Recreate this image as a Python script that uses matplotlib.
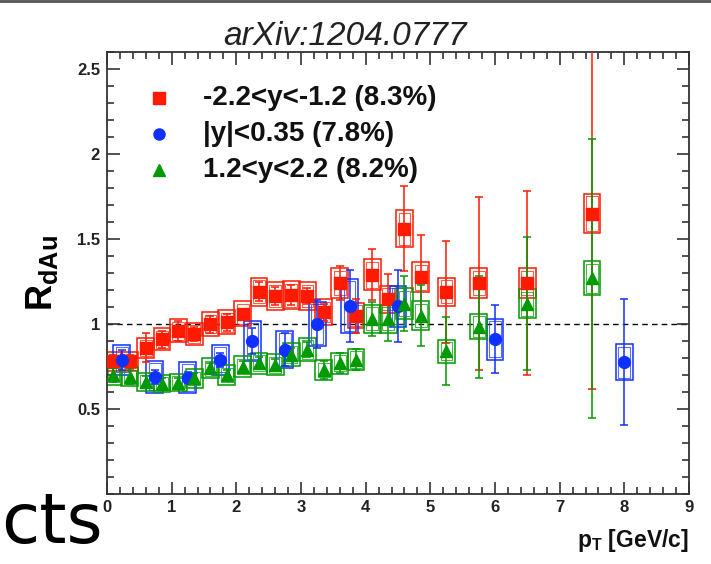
import matplotlib
matplotlib.use("Agg")
import matplotlib.pyplot as plt
from matplotlib.patches import Rectangle
from matplotlib.ticker import MultipleLocator
from matplotlib.lines import Line2D

plt.rcParams['font.family'] = ['Liberation Sans', 'DejaVu Sans']
plt.rcParams['mathtext.fontset'] = 'custom'
plt.rcParams['mathtext.rm'] = 'Liberation Sans:bold'
plt.rcParams['mathtext.bf'] = 'Liberation Sans:bold'
plt.rcParams['mathtext.it'] = 'Liberation Sans:bold'

# ---------------- data ----------------
title_text = "arXiv:1204.0777"
labels = ["-2.2<y<-1.2 (8.3%)", "|y|<0.35 (7.8%)", "1.2<y<2.2 (8.2%)"]

pt_bwd = [0.1, 0.35, 0.6, 0.85, 1.1, 1.35, 1.6, 1.85, 2.1, 2.35, 2.6, 2.85,
          3.1, 3.35, 3.6, 3.85, 4.1, 4.35, 4.6, 4.85, 5.25, 5.75, 6.5, 7.5]
r_bwd = [0.78, 0.78, 0.86, 0.91, 0.96, 0.94, 1.00, 1.01, 1.06, 1.19, 1.165, 1.17,
         1.165, 1.07, 1.24, 1.05, 1.29, 1.145, 1.56, 1.275, 1.19, 1.24, 1.24, 1.65]
stat_bwd = [0.04, 0.04, 0.085, 0.05, 0.06, 0.04, 0.05, 0.05, 0.03, 0.055, 0.055, 0.057,
            0.045, 0.05, 0.10, 0.10, 0.15, 0.15, 0.25, 0.25, 0.30, 0.51, 0.54, 1.03]
sys_bwd = [0.055, 0.055, 0.06, 0.064, 0.067, 0.066, 0.07, 0.071, 0.074, 0.083, 0.082, 0.082,
           0.082, 0.075, 0.087, 0.074, 0.09, 0.08, 0.109, 0.089, 0.083, 0.087, 0.087, 0.116]

pt_mid = [0.23, 0.74, 1.25, 1.75, 2.25, 2.75, 3.25, 3.75, 4.5, 6.0, 8.0]
r_mid = [0.79, 0.69, 0.685, 0.79, 0.90, 0.85, 1.00, 1.105, 1.105, 0.91, 0.775]
stat_mid = [0.06, 0.04, 0.03, 0.04, 0.075, 0.095, 0.14, 0.21, 0.21, 0.20, 0.37]
sys_mid = [0.088, 0.095, 0.093, 0.088, 0.12, 0.11, 0.13, 0.16, 0.12, 0.12, 0.105]

pt_fwd = [0.1, 0.35, 0.6, 0.85, 1.1, 1.35, 1.6, 1.85, 2.1, 2.35, 2.6, 2.85,
          3.1, 3.35, 3.6, 3.85, 4.1, 4.35, 4.6, 4.85, 5.25, 5.75, 6.5, 7.5]
r_fwd = [0.70, 0.69, 0.66, 0.65, 0.655, 0.68, 0.74, 0.70, 0.75, 0.77, 0.76, 0.82,
         0.85, 0.73, 0.77, 0.79, 1.03, 1.03, 1.12, 1.05, 0.84, 0.985, 1.12, 1.27]
stat_fwd = [0.04, 0.04, 0.035, 0.03, 0.03, 0.03, 0.03, 0.03, 0.03, 0.035, 0.035, 0.04,
            0.045, 0.054, 0.06, 0.063, 0.10, 0.13, 0.16, 0.18, 0.20, 0.30, 0.39, 0.82]
sys_fwd = [0.056, 0.055, 0.053, 0.052, 0.052, 0.054, 0.059, 0.056, 0.06, 0.062, 0.061, 0.066,
           0.068, 0.058, 0.062, 0.063, 0.082, 0.082, 0.09, 0.084, 0.067, 0.075, 0.085, 0.10]

RED = '#ff1a00'
BLUE = '#1030ff'
GREEN = '#009a00'

# ---------------- figure ----------------
W, H = 711, 564
fig = plt.figure(figsize=(W / 100, H / 100), dpi=100)
ax = fig.add_axes([107 / W, 1 - 494 / H, (689 - 107) / W, (494 - 52) / H])
ax.set_xlim(0, 9)
ax.set_ylim(0, 2.6)

px_x = 9 / (689 - 107)
px_y = 2.6 / (494 - 52)
box_hw = 0.13


def draw_series(x, y, stat, sys, color, marker, ms):
    for xi, yi, si in zip(x, y, sys):
        ax.add_patch(Rectangle((xi - box_hw, yi - si), 2 * box_hw, 2 * si,
                               fill=False, edgecolor=color, lw=1.1, zorder=2))
        d = 2.5
        ax.add_patch(Rectangle((xi - box_hw + d * px_x, yi - si + d * px_y),
                               2 * box_hw - 2 * d * px_x, 2 * si - 2 * d * px_y,
                               fill=False, edgecolor=color, lw=0.8, alpha=0.7, zorder=2))
    ax.errorbar(x, y, yerr=stat, fmt=marker, color=color, ms=ms, mec=color,
                mfc=color, elinewidth=1.1, capsize=3.0, capthick=1.1, zorder=3)


ax.axhline(1.0, color='black', ls=(0, (4, 3)), lw=1.0, zorder=1)
draw_series(pt_bwd, r_bwd, stat_bwd, sys_bwd, RED, 's', 9)
draw_series(pt_mid, r_mid, stat_mid, sys_mid, BLUE, 'o', 8.5)
draw_series(pt_fwd, r_fwd, stat_fwd, sys_fwd, GREEN, '^', 8.5)

# ticks (ROOT style)
ax.xaxis.set_major_locator(MultipleLocator(1))
ax.xaxis.set_minor_locator(MultipleLocator(0.2))
ax.yaxis.set_major_locator(MultipleLocator(0.5))
ax.yaxis.set_minor_locator(MultipleLocator(0.1))
ax.tick_params(which='both', direction='in', top=True, right=True, color='#333333', width=1.2)
ax.tick_params(which='major', length=9)
ax.tick_params(which='minor', length=5)
ax.tick_params(axis='x', which='major', pad=4)
ax.tick_params(axis='y', which='major', pad=5)
ax.set_yticks([0.5, 1, 1.5, 2, 2.5])
ax.set_yticklabels(['0.5', '1', '1.5', '2', '2.5'])
for lab in ax.get_xticklabels() + ax.get_yticklabels():
    lab.set_fontweight('bold')
    lab.set_fontsize(12)
    lab.set_color('#222222')
for s in ax.spines.values():
    s.set_color('#333333')
    s.set_linewidth(1.3)

ax.set_ylabel(r'$\mathbf{R_{dAu}}$', fontsize=26, labelpad=12)
fig.text(689 / W, 1 - 547 / H, r'$\mathbf{p_{T}}$ [GeV/c]', ha='right', va='baseline',
         fontsize=16.5, fontweight='bold', color='#111111')

# legend
leg_x_marker = (159 - 107) * px_x
leg_x_text = (203 - 107) * px_x
leg_rows = [98, 134, 170]
for lab, col, mk, ms, row in zip(labels, [RED, BLUE, GREEN], ['s', 'o', '^'], [8.5, 8, 8], leg_rows):
    yv = (494 - row) * px_y
    ax.plot([leg_x_marker], [yv], marker=mk, color=col, ms=ms, ls='none', zorder=5)
    ax.text(leg_x_text, yv, lab, fontsize=20, fontweight='bold', va='center', ha='left',
            color='#111111', zorder=5)

# title
fig.text(345 / W, 1 - 45 / H, title_text, ha='center', va='baseline', fontsize=24,
         fontstyle='italic', color='#222222')

# slide remnants
fig.text(1 / W, 1 - 543 / H, 'cts', ha='left', va='baseline', fontsize=50, color='black',
         family='DejaVu Sans')
fig.add_artist(Line2D([0, 1], [1 - 1 / H, 1 - 1 / H], color='#555555', lw=2.0,
                      transform=fig.transFigure))

fig.savefig('out.png', dpi=100)
